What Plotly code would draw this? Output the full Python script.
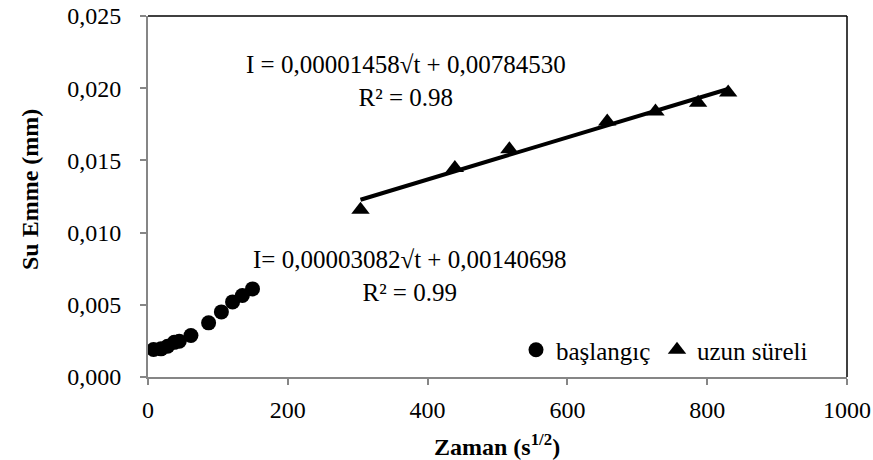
import plotly.graph_objects as go

# başlangıç (early) data
x_bas = [8, 18.6, 28, 37.6, 44.7, 61.4, 86.7, 105, 121, 135, 149.5]
y_bas = [0.00190, 0.00195, 0.00213, 0.00240, 0.00248, 0.00287, 0.00375, 0.00451, 0.00520, 0.00564, 0.00610]

# uzun süreli (long-term) data
x_uzun = [304, 439, 517, 657, 726, 787, 830]
y_uzun = [0.01158, 0.01448, 0.01578, 0.01769, 0.01838, 0.01900, 0.01970]

# trendline for long-term series
slope_uzun = 0.00001458
icpt_uzun = 0.00784530
x_fit = [min(x_uzun), max(x_uzun)]
y_fit = [slope_uzun * v + icpt_uzun for v in x_fit]

FONT = "Liberation Serif"
AX_GRAY = "#868686"
FS_TICK = 24
FS_TEXT = 25
FS_TITLE = 24


def px_x(p):
    return (p - 148) / 699


def px_y(p):
    return (377 - p) / 361


fig = go.Figure()
fig.add_trace(go.Scatter(x=x_fit, y=y_fit, mode="lines", line=dict(color="black", width=4),
                         showlegend=False, hoverinfo="skip"))
fig.add_trace(go.Scatter(x=x_bas, y=y_bas, mode="markers", name="başlangıç", legend="legend",
                         marker=dict(symbol="circle", size=15, color="black")))
fig.add_trace(go.Scatter(x=x_uzun, y=y_uzun, mode="markers", name="uzun süreli", legend="legend2",
                         marker=dict(symbol="triangle-up", size=16, color="black")))

leg_common = dict(orientation="h", xanchor="left", y=px_y(350), yanchor="middle",
                  font=dict(family=FONT, size=FS_TEXT), bgcolor="rgba(0,0,0,0)")

fig.update_layout(
    width=873, height=460,
    margin=dict(l=148, r=26, t=16, b=83, autoexpand=False),
    paper_bgcolor="white", plot_bgcolor="white",
    font=dict(family=FONT, size=FS_TEXT, color="black"),
    separators=",.",
    showlegend=True,
    legend=dict(x=px_x(516), **leg_common),
    legend2=dict(x=px_x(657), **leg_common),
    xaxis=dict(range=[0, 1000], dtick=200, tick0=0, showgrid=False, zeroline=False,
               showline=True, linecolor=AX_GRAY, linewidth=2, automargin=False,
               ticks="outside", ticklen=6, tickcolor=AX_GRAY, tickwidth=1.5,
               ticklabelstandoff=4,
               tickfont=dict(family=FONT, size=FS_TICK)),
    yaxis=dict(range=[0, 0.025], dtick=0.005, tick0=0, tickformat=".3f", showgrid=False,
               zeroline=False, showline=True, linecolor=AX_GRAY, linewidth=2, automargin=False,
               ticks="outside", ticklen=6, tickcolor=AX_GRAY, tickwidth=1.5,
               ticklabelstandoff=14,
               tickfont=dict(family=FONT, size=FS_TICK)),
    shapes=[
        dict(type="line", xref="paper", yref="paper", x0=0, x1=1, y0=1, y1=1,
             line=dict(color="black", width=1.5)),
        dict(type="line", xref="paper", yref="paper", x0=1, x1=1, y0=0, y1=1,
             line=dict(color="black", width=1.5)),
    ],
    annotations=[
        # axis titles
        dict(xref="paper", yref="paper", x=px_x(497), y=px_y(445),
             text="<b>Zaman (s<sup>1/2</sup>)</b>", showarrow=False,
             xanchor="center", yanchor="middle", font=dict(family=FONT, size=FS_TITLE)),
        dict(xref="paper", yref="paper", x=px_x(30), y=px_y(190),
             text="<b>Su Emme (mm)</b>", showarrow=False, textangle=-90,
             xanchor="center", yanchor="middle", font=dict(family=FONT, size=FS_TITLE)),
        # trendline equations
        dict(xref="paper", yref="paper", x=px_x(406), y=px_y(81),
             text="I = 0,00001458√t + 0,00784530<br>R² = 0.98", align="center",
             showarrow=False, xanchor="center", yanchor="middle",
             font=dict(family=FONT, size=FS_TEXT)),
        dict(xref="paper", yref="paper", x=px_x(409), y=px_y(276),
             text="I= 0,00003082√t + 0,00140698<br>R² = 0.99", align="center",
             showarrow=False, xanchor="center", yanchor="middle",
             font=dict(family=FONT, size=FS_TEXT)),
    ],
)

fig.write_html("out.html")
